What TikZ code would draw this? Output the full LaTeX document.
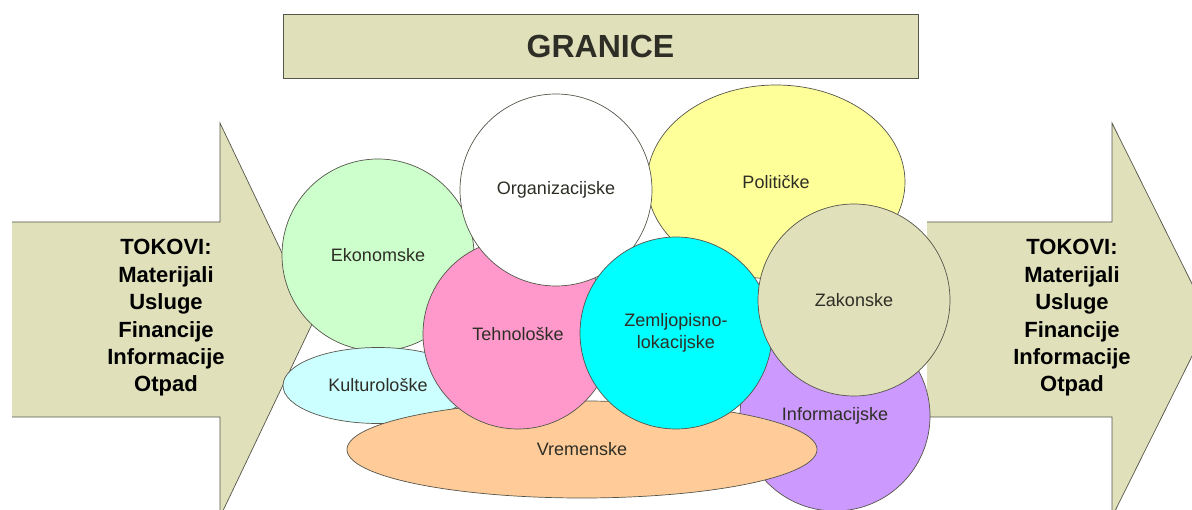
\documentclass[tikz,border=0pt]{standalone}
\usepackage{fontspec}
\setmainfont{Liberation Sans}
\usetikzlibrary{shapes.geometric}
\definecolor{bež}{HTML}{E0E0BB}
\definecolor{rub}{HTML}{55554A}
\definecolor{tekst}{HTML}{2E2E26}
\definecolor{zelena}{HTML}{CCFFCC}
\definecolor{svcijan}{HTML}{CCFFFF}
\definecolor{roza}{HTML}{FF99CC}
\definecolor{cijan}{HTML}{00FFFF}
\definecolor{zuta}{HTML}{FFFF99}
\definecolor{ljub}{HTML}{CC99FF}
\definecolor{naranca}{HTML}{FFCC99}

\begin{document}
\begin{tikzpicture}[x=1pt,y=-1pt,
        rim/.style = {draw=rub, line width=0.7pt},
        krug/.style = {rim, circle, inner sep=0pt, minimum size=192pt, text=tekst, align=center,
                       font=\fontsize{18}{22}\selectfont},
        elipsa/.style = {rim, ellipse, inner sep=0pt, text=tekst, font=\fontsize{18}{22}\selectfont},
        tok/.style = {align=center, font=\bfseries\fontsize{22}{27.4}\selectfont}]
        \clip (0,0) rectangle (1192,510);

        % tokovi
        \fill[bež] (12,222) -- (220,222) -- (220,123) -- (314,320) -- (220,517) -- (220,417) -- (12,417) -- cycle;
        \draw[rim] (12,222) -- (220,222) -- (220,123) -- (314,320) -- (220,517) -- (220,417) -- (12,417);
        \fill[bež] (927,222) -- (1112,222) -- (1112,123) -- (1210,320) -- (1112,517) -- (1112,417) -- (927,417) -- cycle;
        \draw[rim] (927,222) -- (1112,222) -- (1112,123) -- (1210,320) -- (1112,517) -- (1112,417) -- (927,417);
        \node[tok] (ul) at (166,318) {TOKOVI:\\Materijali\\Usluge\\Financije\\Informacije\\Otpad};
        \node[tok] (iz) at (1072,318) {TOKOVI:\\Materijali\\Usluge\\Financije\\Informacije\\Otpad};

        \node[rim, fill=bež, minimum width=635pt, minimum height=64pt, text=tekst,
              font=\bfseries\fontsize{32}{36}\selectfont] (gr) at (600.5,46) {GRANICE};

        % granice
        \node[elipsa, fill=zuta, minimum width=258pt, minimum height=194pt] (pol) at (776,182) {Političke};
        \node[krug, fill=zelena] (eko) at (378,255) {Ekonomske};
        \node[elipsa, fill=svcijan, minimum width=190pt, minimum height=76pt] (kul) at (378,385.5) {Kulturološke};
        \node[krug, fill=ljub, minimum size=190pt] (inf) at (835,416) {Informacijske};
        \node[elipsa, fill=naranca, minimum width=470pt, minimum height=97pt] (vre) at (582,449.5) {Vremenske};
        \node[krug, fill=roza, minimum size=190pt] (teh) at (518,334) {Tehnološke};
        \node[krug, fill=white] (org) at (556,190) {Organizacijske};
        \node[krug, fill=cijan] (zem) at (676,333) {Zemljopisno-\\lokacijske};
        \node[krug, fill=bež] (zak) at (854,300) {Zakonske};
\end{tikzpicture}
\end{document}
